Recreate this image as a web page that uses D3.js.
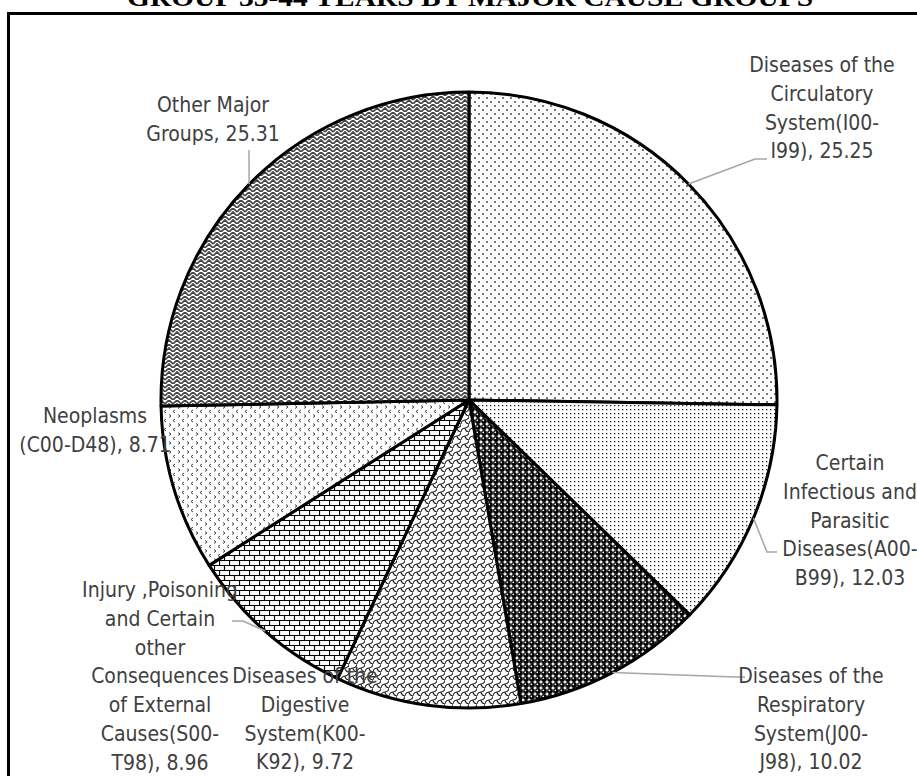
<!DOCTYPE html>
<html>
<head>
<meta charset="utf-8">
<script src="https://cdn.jsdelivr.net/npm/d3@7"></script>
<style>
  html, body { margin: 0; padding: 0; background: #fff; }
  svg { display: block; }
</style>
</head>
<body>
<svg id="chart" width="917" height="776"></svg>
<script>
// ---- data ----
const titleText = "GROUP 35-44 YEARS BY MAJOR CAUSE GROUPS";
const categories = [
  "Diseases of the Circulatory System(I00-I99)",
  "Certain Infectious and Parasitic Diseases(A00-B99)",
  "Diseases of the Respiratory System(J00-J98)",
  "Diseases of the Digestive System(K00-K92)",
  "Injury ,Poisoning and Certain other Consequences of External Causes(S00-T98)",
  "Neoplasms (C00-D48)",
  "Other Major Groups"
];
const values = [25.25, 12.03, 10.02, 9.72, 8.96, 8.71, 25.31];
const labelLines = [
  ["Diseases of the", "Circulatory", "System(I00-", "I99)"],
  ["Certain", "Infectious and", "Parasitic", "Diseases(A00-", "B99)"],
  ["Diseases of the", "Respiratory", "System(J00-", "J98)"],
  ["Diseases of the", "Digestive", "System(K00-", "K92)"],
  ["Injury ,Poisoning", "and Certain", "other", "Consequences", "of External", "Causes(S00-", "T98)"],
  ["Neoplasms", "(C00-D48)"],
  ["Other Major", "Groups"]
];
const patternIds = ["pCirc", "pInf", "pResp", "pDig", "pInj", "pNeo", "pOther"];

// ---- layout (not data) ----
const W = 917, H = 776;
const cx = 469, cy = 400, R = 308;
const lineH = 28.8;
const labelLayout = [
  { x: 822, y: 72,  leader: [[755, 159], [767, 159]] },
  { x: 850, y: 470, leader: [[767, 552], [777, 552]] },
  { x: 811, y: 683, leader: [[735, 677], [745, 677]] },
  { x: 305, y: 683, leader: null },
  { x: 160, y: 597, leader: [[243, 621], [232, 621]] },
  { x: 95,  y: 423, leader: null },
  { x: 213, y: 112, leader: [[249, 150]] }
];

const svg = d3.select("#chart");
const defs = svg.append("defs");

function pat(id, w, h, build) {
  const p = defs.append("pattern").attr("id", id)
    .attr("patternUnits", "userSpaceOnUse")
    .attr("width", w).attr("height", h);
  p.append("rect").attr("width", w).attr("height", h).attr("fill", "#fff");
  build(p);
}
// Circulatory: sparse diagonal dots
pat("pCirc", 8, 8, p => {
  p.append("rect").attr("x", 1).attr("y", 1).attr("width", 2).attr("height", 2).attr("fill", "#777");
  p.append("rect").attr("x", 5).attr("y", 5).attr("width", 2).attr("height", 2).attr("fill", "#777");
});
// Infectious: fine dot grid
pat("pInf", 4, 4, p => {
  p.append("rect").attr("x", 1).attr("y", 1).attr("width", 1.3).attr("height", 1.3).attr("fill", "#222");
});
// Respiratory: spheres
pat("pResp", 6, 6, p => {
  p.append("circle").attr("cx", 3).attr("cy", 3).attr("r", 2.9).attr("fill", "#000");
  p.append("circle").attr("cx", 2.3).attr("cy", 2.3).attr("r", 0.9).attr("fill", "#fff");
});
// Digestive: shingle
pat("pDig", 8, 8, p => {
  p.append("path").attr("d", "M0,8 C0,5 3,4 4,4 C5,4 8,3 8,0 M4,4 C4,6 6,8 8,8")
    .attr("fill", "none").attr("stroke", "#222").attr("stroke-width", 1.1);
});
// Injury: horizontal brick
pat("pInj", 10, 10, p => {
  p.append("path").attr("d", "M0,0.5 H10 M0,5.5 H10 M0.5,0.5 V5.5 M5.5,5.5 V10")
    .attr("fill", "none").attr("stroke", "#000").attr("stroke-width", 1.2);
});
// Neoplasms: divots
pat("pNeo", 9, 9, p => {
  p.append("path").attr("d", "M3,1 L1,2.5 L3,4 M6,5.5 L8,7 L6,8.5")
    .attr("fill", "none").attr("stroke", "#444").attr("stroke-width", 1);
});
// Other: zigzag weave
pat("pOther", 8, 8, p => {
  p.append("path").attr("d", "M0,4 L4,0 L8,4 M0,8 L4,4 L8,8")
    .attr("fill", "none").attr("stroke", "#444").attr("stroke-width", 1.6);
});

// frame
svg.append("rect").attr("x", 8.5).attr("y", 13.5).attr("width", 940).attr("height", 800)
  .attr("fill", "none").attr("stroke", "#000").attr("stroke-width", 3);

// title (cropped at the top edge in the reference)
svg.append("text").attr("x", 470).attr("y", 6)
  .attr("text-anchor", "middle")
  .attr("font-family", "'Liberation Serif', 'Times New Roman', serif")
  .attr("font-weight", "bold").attr("font-size", 26)
  .attr("textLength", 686).attr("lengthAdjust", "spacingAndGlyphs")
  .text(titleText);

// pie
const data = categories.map((c, i) => ({ name: c, value: values[i], pat: patternIds[i], lines: labelLines[i], layout: labelLayout[i] }));
const pie = d3.pie().sort(null).value(d => d.value);
const arcs = pie(data);
const arc = d3.arc().innerRadius(0).outerRadius(R);
const g = svg.append("g").attr("transform", `translate(${cx},${cy})`);
g.selectAll("path.slice").data(arcs).join("path")
  .attr("class", "slice")
  .attr("d", arc)
  .attr("fill", d => `url(#${d.data.pat})`)
  .attr("stroke", "#000").attr("stroke-width", 3).attr("stroke-linejoin", "round");

// leader lines
arcs.forEach(a => {
  const L = a.data.layout;
  if (!L.leader) return;
  const mid = (a.startAngle + a.endAngle) / 2;
  const ex = cx + R * Math.sin(mid), ey = cy - R * Math.cos(mid);
  const pts = [[ex, ey]].concat(L.leader);
  svg.append("path").attr("d", d3.line()(pts))
    .attr("fill", "none").attr("stroke", "#a6a6a6").attr("stroke-width", 1.5);
});

// labels
arcs.forEach(a => {
  const L = a.data.layout;
  const lines = a.data.lines.slice();
  lines[lines.length - 1] = lines[lines.length - 1] + ", " + d3.format(".2f")(a.data.value);
  const t = svg.append("text")
    .attr("text-anchor", "middle")
    .attr("font-family", "'DejaVu Sans Condensed', 'Open Sans', sans-serif")
    .attr("font-size", 21).attr("fill", "#404040");
  lines.forEach((ln, i) => {
    t.append("tspan").attr("x", L.x).attr("y", L.y + i * lineH).text(ln);
  });
});
</script>
</body>
</html>
